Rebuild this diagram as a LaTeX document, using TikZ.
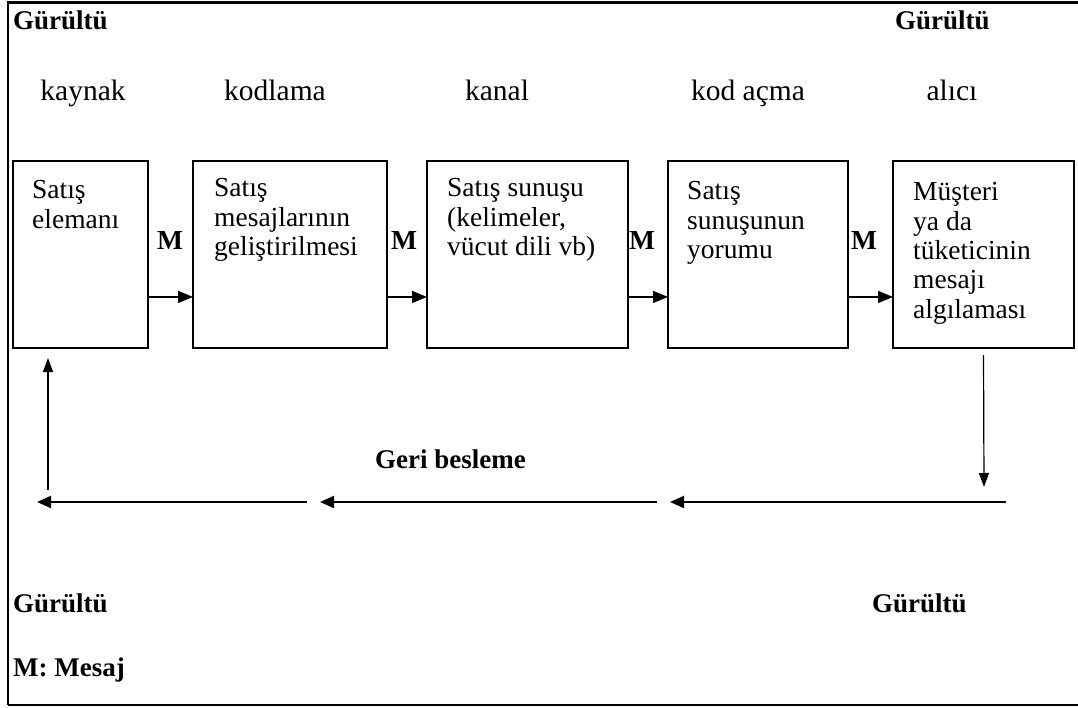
\documentclass[tikz,border=0pt]{standalone}
\usepackage{fontspec}
\setmainfont{Liberation Serif}
\usetikzlibrary{arrows.meta,calc}
\newcommand\bt[1]{\parbox[t]{170pt}{\raggedright\fontsize{27.5}{29.3}\selectfont #1}}
\tikzset{
  box/.style={draw, line width=1.4pt, minimum height=187pt, inner sep=0pt, outer sep=0pt},
  btxt/.style={anchor=base west, inner sep=0pt},
  collabel/.style={anchor=base, inner sep=0pt, font=\fontsize{29.5}{32}\selectfont},
  boldlabel/.style={anchor=base west, inner sep=0pt, font=\fontsize{27}{30}\selectfont\bfseries},
  mlabel/.style={anchor=base, inner sep=0pt, font=\fontsize{27.5}{30}\selectfont\bfseries},
  marr/.style={line width=1.4pt, -{Triangle[length=15pt,width=12pt]}},
  varr/.style={line width=1.2pt, -{Triangle[length=14pt,width=10pt]}},
  harr/.style={line width=2pt, -{Triangle[length=14pt,width=12pt]}},
  frameline/.style={line width=2.5pt}
}
\begin{document}
\begin{tikzpicture}[x=1pt,y=-1pt]
\useasboundingbox (0,0) rectangle (1078,708);
% frame
\draw[frameline] (8,705) -- (8,2.5) -- (1078,2.5);
\draw[frameline] (8,705) -- (1078,705);

% corner labels
\node[boldlabel] (g1) at (13,30) {Gürültü};
\node[boldlabel] (g2) at (895,30) {Gürültü};
\node[boldlabel] (g3) at (13,612) {Gürültü};
\node[boldlabel] (g4) at (872,612) {Gürültü};
\node[boldlabel] (leg) at (13,676) {M: Mesaj};

% column labels
\node[collabel] (c1) at (83,101) {kaynak};
\node[collabel] (c2) at (275,101) {kodlama};
\node[collabel] (c3) at (497,101) {kanal};
\node[collabel] (c4) at (748,101) {kod açma};
\node[collabel] (c5) at (952,101) {alıcı};

% boxes
\node[box, minimum width=135pt] (b1) at (80.5,254.5) {};
\node[box, minimum width=194pt] (b2) at (290,254.5) {};
\node[box, minimum width=201pt] (b3) at (527.5,254.5) {};
\node[box, minimum width=180pt] (b4) at (758,254.5) {};
\node[box, minimum width=181pt] (b5) at (983.5,254.5) {};

% box texts
\node[btxt] (t1) at ($(b1.north west)+(19,38)$) {\bt{Satış\\elemanı}};
\node[btxt] (t2) at ($(b2.north west)+(21,36)$) {\bt{Satış\\mesajlarının\\geliştirilmesi}};
\node[btxt] (t3) at ($(b3.north west)+(20,36)$) {\bt{Satış sunuşu\\(kelimeler,\\vücut dili vb)}};
\node[btxt] (t4) at ($(b4.north west)+(19,39)$) {\bt{Satış\\sunuşunun\\yorumu}};
\node[btxt] (t5) at ($(b5.north west)+(20,40)$) {\bt{Müşteri\\ya da\\tüketicinin\\mesajı\\algılaması}};

% M labels
\node[mlabel] (m1) at (170,250) {M};
\node[mlabel] (m2) at (404,250) {M};
\node[mlabel] (m3) at (642,250) {M};
\node[mlabel] (m4) at (864,250) {M};

% message arrows
\draw[marr] ($(b1.south east)!0.273!(b1.north east)$) -- ($(b2.south west)!0.273!(b2.north west)$);
\draw[marr] ($(b2.south east)!0.273!(b2.north east)$) -- ($(b3.south west)!0.273!(b3.north west)$);
\draw[marr] ($(b3.south east)!0.273!(b3.north east)$) -- ($(b4.south west)!0.273!(b4.north west)$);
\draw[marr] ($(b4.south east)!0.273!(b4.north east)$) -- ($(b5.south west)!0.273!(b5.north west)$);

% feedback
\coordinate (d1) at (984,487);
\draw[varr] ([yshift=-7pt]b5.south) -- (d1);
\coordinate (h0) at (1006,502);
\coordinate (h1) at (670,502);
\coordinate (h2) at (657,502);
\coordinate (h3) at (320,502);
\coordinate (h4) at (307,502);
\coordinate (h5) at (37,502);
\draw[harr] (h0) -- (h1);
\draw[harr] (h2) -- (h3);
\draw[harr] (h4) -- (h5);
\coordinate (u0) at (48,490);
\coordinate (u1) at (48,358);
\draw[varr] (u0) -- (u1);
\node[boldlabel] (fb) at (375,468) {Geri besleme};
\end{tikzpicture}
\end{document}
